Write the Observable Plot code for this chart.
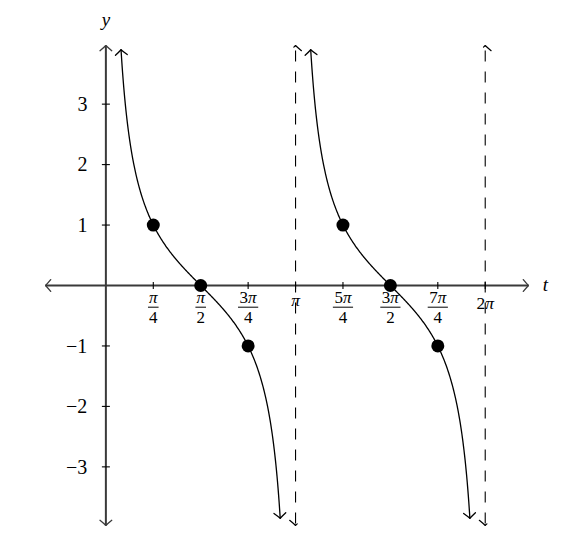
<!DOCTYPE html>
<html><head><meta charset="utf-8">
<script src="https://cdn.jsdelivr.net/npm/d3@7"></script>
<script src="https://cdn.jsdelivr.net/npm/@observablehq/plot@0.6"></script>
<style>body{margin:0;background:#fff;} svg{display:block}</style>
</head><body><div id="chart"></div>
<script>
// ---- data ----
const keyT = [Math.PI/4, Math.PI/2, 3*Math.PI/4, 5*Math.PI/4, 3*Math.PI/2, 7*Math.PI/4];
const keyY = [1, 0, -1, 1, 0, -1];
const asymptotes = [Math.PI, 2*Math.PI];
const branchStarts = [0, Math.PI];           // left asymptote of each cot branch
const curveTop = 3.9, curveBottom = -3.85;   // where drawn branches end
const xDomain = [-1, 7];
const yDomain = [-3.97, 3.97];
const xTickValues = [Math.PI/4, Math.PI/2, 3*Math.PI/4, Math.PI, 5*Math.PI/4, 3*Math.PI/2, 7*Math.PI/4, 2*Math.PI];
const xTickNum = ["π", "π", "3π", "π", "5π", "3π", "7π", "2π"];
const xTickDen = ["4", "2", "4", "", "4", "2", "4", ""];
const yTicks = [-3, -2, -1, 1, 2, 3];
const axisNames = ["t", "y"];

// ---- derived tables ----
const points = keyT.map((t, i) => ({t, y: keyY[i]}));
const curve = [];
branchStarts.forEach((b, k) => {
  const t0 = b + Math.atan(1 / curveTop);
  const t1 = b + Math.PI - Math.atan(1 / -curveBottom);
  const n = 300;
  for (let i = 0; i <= n; i++) {
    const t = t0 + (t1 - t0) * i / n;
    curve.push({branch: k, t, y: Math.cos(t) / Math.sin(t)});
  }
});
const xTicks = xTickValues.map((v, i) => ({v, num: xTickNum[i], den: xTickDen[i]}));
const fracs = xTicks.filter(d => d.den !== "");
const plainPi = xTicks.filter(d => d.den === "" && d.num === "π");
const plainMul = xTicks.filter(d => d.den === "" && d.num !== "π");

// ---- helpers ----
const NS = "http://www.w3.org/2000/svg";
function chevron(sw) {
  return (color) => {
    const m = document.createElementNS(NS, "marker");
    m.setAttribute("viewBox", "-10 -10 20 20");
    m.setAttribute("markerWidth", 20);
    m.setAttribute("markerHeight", 20);
    m.setAttribute("markerUnits", "userSpaceOnUse");
    m.setAttribute("orient", "auto-start-reverse");
    m.setAttribute("overflow", "visible");
    const p = document.createElementNS(NS, "path");
    p.setAttribute("d", "M-5.2,-5.9Q-2,-2 0,0Q-2,2 -5.2,5.9");
    p.setAttribute("fill", "none");
    p.setAttribute("stroke", color);
    p.setAttribute("stroke-width", sw);
    p.setAttribute("stroke-linecap", "round");
    m.appendChild(p);
    return m;
  };
}
const hbar = {draw(ctx, size) { const r = Math.sqrt(size / Math.PI); ctx.moveTo(-r, 0); ctx.lineTo(r, 0); }};
const vbar = {draw(ctx, size) { const r = Math.sqrt(size / Math.PI); ctx.moveTo(0, -r); ctx.lineTo(0, r); }};

const axisColor = "#3a3a3a";
const serif = "Liberation Serif";
const fx = 17.5;   // x tick label size

const chart = Plot.plot({
  width: 568, height: 557,
  marginLeft: 45, marginRight: 40, marginTop: 45, marginBottom: 32,
  x: {domain: xDomain, axis: null},
  y: {domain: yDomain, axis: null},
  r: {type: "identity"},
  style: {fontFamily: serif, background: "white", color: "black"},
  marks: [
    // axes
    Plot.link([0], {x1: xDomain[0], x2: xDomain[1], y1: 0, y2: 0, stroke: axisColor, strokeWidth: 2,
      markerStart: chevron(1.3), markerEnd: chevron(1.3)}),
    Plot.link([0], {x1: 0, x2: 0, y1: yDomain[0], y2: yDomain[1], stroke: axisColor, strokeWidth: 2,
      markerStart: chevron(1.3), markerEnd: chevron(1.3)}),
    // asymptotes
    Plot.link(asymptotes, {x1: d => d, x2: d => d, y1: yDomain[1], y2: yDomain[0], stroke: "black", strokeWidth: 1.1,
      strokeDasharray: "11,10", strokeDashoffset: -5, markerStart: chevron(1.2), markerEnd: chevron(1.2)}),
    // tick marks
    Plot.dot(xTickValues, {x: d => d, y: 0, r: 3.6, symbol: vbar, stroke: "black", strokeWidth: 1.1}),
    Plot.dot(yTicks, {x: 0, y: d => d, r: 4, symbol: hbar, stroke: "black", strokeWidth: 1.1}),
    // y tick labels
    Plot.text(yTicks, {x: 0, y: d => d, text: d => d < 0 ? "\u2212" + Math.abs(d) : String(d),
      textAnchor: "end", dx: -18.5, dy: 0.5, fontSize: 20, fontFamily: serif, fill: "black", lineAnchor: "middle"}),
    // x tick labels (fractions)
    Plot.text(fracs, {x: "v", y: 0, text: "num", dy: 17.5 - 0.32 * 17, fontSize: 17, fontFamily: serif, fill: "black", lineAnchor: "middle"}),
    Plot.text(fracs, {x: "v", y: 0, text: "den", dy: 37 - 0.32 * 17, fontSize: 17, fontFamily: serif, fill: "black", lineAnchor: "middle"}),
    Plot.dot(fracs, {x: "v", y: 0, dy: 21.7, r: d => 0.5 + 4.8 * [...d.num].length, symbol: hbar, stroke: "black", strokeWidth: 1}),
    Plot.text(plainPi, {x: "v", y: 0, text: "num", dy: 20 - 0.32 * fx, fontSize: fx, fontFamily: serif, fill: "black", lineAnchor: "middle"}),
    Plot.text(plainMul, {x: "v", y: 0, text: "num", dy: 23.3 - 0.32 * fx, fontSize: fx, fontFamily: serif, fill: "black", lineAnchor: "middle"}),
    // curve
    Plot.line(curve, {x: "t", y: "y", z: "branch", stroke: "black", strokeWidth: 1.3,
      markerStart: chevron(1.3), markerEnd: chevron(1.3), curve: "linear"}),
    // key points
    Plot.dot(points, {x: "t", y: "y", r: 6.5, fill: "black", stroke: "none"}),
    // axis names
    Plot.text(axisNames.slice(0, 1), {x: xDomain[1], y: 0, text: d => d, dx: 17, dy: -1, fontSize: 19, fontFamily: serif, fontStyle: "italic", fill: "black", lineAnchor: "middle"}),
    Plot.text(axisNames.slice(1), {x: 0, y: yDomain[1], text: d => d, dy: -26, fontSize: 19, fontFamily: serif, fontStyle: "italic", fill: "black", lineAnchor: "middle"})
  ]
});

// italicise π inside tick labels (as TeX math does)
chart.querySelectorAll("text").forEach(t => {
  const s = t.textContent;
  if (!s.includes("π") || t.children.length) return;
  t.textContent = "";
  for (const ch of s) {
    const span = document.createElementNS(NS, "tspan");
    span.textContent = ch;
    if (ch === "π") span.setAttribute("font-style", "italic");
    t.appendChild(span);
  }
});
document.getElementById("chart").appendChild(chart);
</script>
</body></html>
